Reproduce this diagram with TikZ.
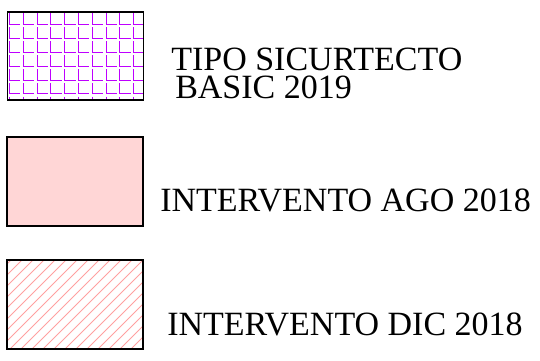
\documentclass[tikz,border=0pt]{standalone}
\usepackage{fontspec}
\setmainfont{Liberation Serif}
\usepackage{tikz}
\definecolor{gridViolet}{RGB}{190,0,255}
\definecolor{augPink}{RGB}{255,214,214}
\definecolor{decPink}{RGB}{255,160,160}
\tikzset{legendbox/.style={draw=black,line width=1.2pt}}
\tikzset{legendtext/.style={anchor=base west,inner sep=0pt,font=\fontsize{25.5}{26}\selectfont}}

\begin{document}
\begin{tikzpicture}[x=0.75pt,y=-0.75pt]
        \useasboundingbox (0,0) rectangle (540,361);

        \begin{scope}
            \clip (7.5,12) rectangle (143.5,100);
            \foreach \c in {0,...,9}
                \foreach \r in {0,...,6}
                    \draw[gridViolet,line width=0.6pt] ({9.3+13.8*\c},{13.3+13.9*\r}) -- ({9.3+13.8*\c},{24.3+13.9*\r}) -- ({20.3+13.8*\c},{24.3+13.9*\r});
        \end{scope}
        \draw[legendbox] (7.5,12) rectangle (143.5,100);

        \fill[augPink] (7,137) rectangle (143,226);
        \draw[legendbox] (7,137) rectangle (143,226);

        \begin{scope}
            \clip (7,260) rectangle (143,349);
            \foreach \i in {-100,-89,...,150}
                \draw[decPink,line width=0.7pt] (\i,349) -- ({\i+89},260);
        \end{scope}
        \draw[legendbox] (7,260) rectangle (143,349);

        \node[legendtext] (basic1) at (171,70.7) {TIPO SICURTECTO};
        \node[legendtext] (basic2) at (175,98.3) {BASIC 2019};
        \node[legendtext] (ago) at (160,211.7) {INTERVENTO AGO 2018};
        \node[legendtext] (dic) at (167,335) {INTERVENTO DIC 2018};
    \end{tikzpicture}
\end{document}
